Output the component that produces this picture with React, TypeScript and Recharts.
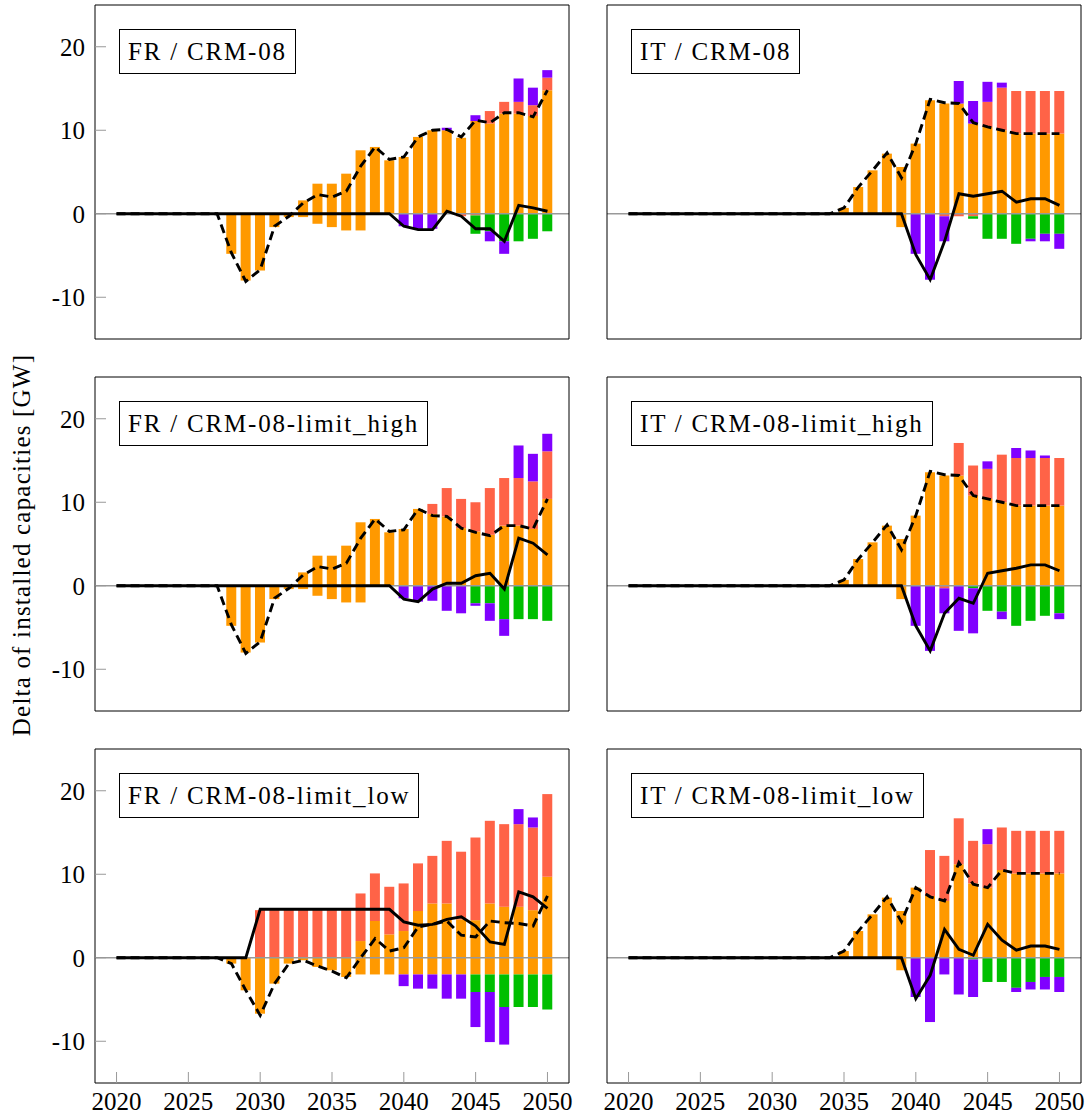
import React from 'react';
import { ComposedChart, Bar, Line, XAxis, YAxis, ReferenceLine } from 'recharts';

const years = [
  2020, 2021, 2022, 2023, 2024, 2025, 2026, 2027, 2028, 2029,
  2030, 2031, 2032, 2033, 2034, 2035, 2036, 2037, 2038, 2039,
  2040, 2041, 2042, 2043, 2044, 2045, 2046, 2047, 2048, 2049, 2050,
];
const xTicks = [2020, 2025, 2030, 2035, 2040, 2045, 2050];
const yTicks = [-10, 0, 10, 20];

// FR / CRM-08
const fr08Orange = [0, 0, 0, 0, 0, 0, 0, 0, 0, 0, 0, 0, 0, 1.6, 3.6, 3.6, 4.8, 7.6, 8.0, 6.4, 6.8, 9.2, 10.0, 10.0, 9.1, 11.1, 10.8, 12.0, 12.0, 11.7, 14.8];
const fr08OrangeNeg = [0, 0, 0, 0, 0, 0, 0, 0, -4.8, -8.0, -6.8, -1.6, -0.4, -0.4, -1.2, -1.6, -2.0, -2.0, 0, 0, 0, 0, 0, 0, 0, 0, 0, 0, 0, 0, 0];
const fr08Red = [0, 0, 0, 0, 0, 0, 0, 0, 0, 0, 0, 0, 0, 0, 0, 0, 0, 0, 0, 0, 0, 0, 0, 0, -0.3, -0.2, 1.5, 1.4, 1.4, 1.3, 1.5];
const fr08Green = [0, 0, 0, 0, 0, 0, 0, 0, 0, 0, 0, 0, 0, 0, 0, 0, 0, 0, 0, 0, 0, 0, 0, 0, 0, -2.2, -2.1, -3.3, -3.3, -3.0, -2.1];
const fr08Purple = [0, 0, 0, 0, 0, 0, 0, 0, 0, 0, 0, 0, 0, 0, 0, 0, 0, 0, 0, 0, -1.5, -1.8, -1.8, 0.3, 0, 0.7, -1.2, -1.5, 2.8, 2.1, 0.9];
const fr08Dashed = [0, 0, 0, 0, 0, 0, 0, 0, -4.7, -8.1, -6.7, -1.5, -0.3, 1.3, 2.3, 2.0, 2.7, 5.7, 8.0, 6.5, 6.8, 9.2, 10.0, 10.1, 9.2, 11.2, 10.9, 12.1, 12.1, 11.6, 14.8];
const fr08Solid = [0, 0, 0, 0, 0, 0, 0, 0, 0, 0, 0, 0, 0, 0, 0, 0, 0, 0, 0, 0, -1.5, -1.9, -1.9, 0.3, -0.3, -1.8, -1.8, -3.3, 1.0, 0.7, 0.3];

// IT / CRM-08
const it08Orange = [0, 0, 0, 0, 0, 0, 0, 0, 0, 0, 0, 0, 0, 0, 0, 0.7, 3.2, 5.2, 7.2, 5.6, 8.4, 13.6, 13.2, 13.2, 10.8, 10.4, 10.0, 9.6, 9.6, 9.6, 9.6];
const it08OrangeNeg = [0, 0, 0, 0, 0, 0, 0, 0, 0, 0, 0, 0, 0, 0, 0, 0, 0, 0, 0, -1.6, 0, 0, 0, 0, 0, 0, 0, 0, 0, 0, 0];
const it08Red = [0, 0, 0, 0, 0, 0, 0, 0, 0, 0, 0, 0, 0, 0, 0, 0, 0, 0, 0, 0, 0, 0, -0.3, -0.3, -0.3, 3.0, 5.1, 5.1, 5.1, 5.1, 5.1];
const it08Green = [0, 0, 0, 0, 0, 0, 0, 0, 0, 0, 0, 0, 0, 0, 0, 0, 0, 0, 0, 0, 0, 0, 0, 0, -0.3, -3.0, -3.0, -3.6, -3.0, -2.4, -2.4];
const it08Purple = [0, 0, 0, 0, 0, 0, 0, 0, 0, 0, 0, 0, 0, 0, 0, 0, 0, 0, 0, 0, -4.8, -7.9, -3.0, 2.7, 2.7, 2.4, 0.6, 0, -0.3, -0.9, -1.8];
const it08Dashed = [0, 0, 0, 0, 0, 0, 0, 0, 0, 0, 0, 0, 0, 0, 0, 0.7, 3.2, 5.2, 7.3, 4.3, 8.4, 13.7, 13.3, 13.2, 10.9, 10.4, 10.0, 9.6, 9.6, 9.6, 9.6];
const it08Solid = [0, 0, 0, 0, 0, 0, 0, 0, 0, 0, 0, 0, 0, 0, 0, 0, 0, 0, 0, 0, -4.9, -7.9, -3.3, 2.4, 2.1, 2.4, 2.7, 1.4, 1.8, 1.8, 1.0];

// FR / CRM-08-limit_high
const frHighOrange = [0, 0, 0, 0, 0, 0, 0, 0, 0, 0, 0, 0, 0, 1.6, 3.6, 3.6, 4.8, 7.6, 8.0, 6.4, 6.8, 9.2, 8.6, 8.3, 6.9, 6.5, 6.1, 7.2, 7.2, 6.8, 10.4];
const frHighOrangeNeg = [0, 0, 0, 0, 0, 0, 0, 0, -4.8, -8.0, -6.8, -1.6, -0.4, -0.4, -1.2, -1.6, -2.0, -2.0, 0, 0, 0, 0, 0, 0, 0, 0, 0, 0, 0, 0, 0];
const frHighRed = [0, 0, 0, 0, 0, 0, 0, 0, 0, 0, 0, 0, 0, 0, 0, 0, 0, 0, 0, 0, 0, 0, 1.2, 3.4, 3.5, 3.5, 5.6, 5.7, 5.7, 5.7, 5.7];
const frHighGreen = [0, 0, 0, 0, 0, 0, 0, 0, 0, 0, 0, 0, 0, 0, 0, 0, 0, 0, 0, 0, 0, 0, 0, 0, 0, -2.1, -2.1, -4.0, -4.0, -4.0, -4.2];
const frHighPurple = [0, 0, 0, 0, 0, 0, 0, 0, 0, 0, 0, 0, 0, 0, 0, 0, 0, 0, 0, 0, -1.5, -1.9, -1.8, -3.0, -3.3, -0.3, -2.1, -2.0, 3.9, 3.3, 2.1];
const frHighDashed = [0, 0, 0, 0, 0, 0, 0, 0, -4.7, -8.1, -6.7, -1.5, -0.3, 1.3, 2.3, 2.0, 2.7, 5.7, 8.0, 6.5, 6.7, 9.2, 8.4, 8.3, 6.9, 6.4, 6.0, 7.2, 7.2, 6.8, 10.4];
const frHighSolid = [0, 0, 0, 0, 0, 0, 0, 0, 0, 0, 0, 0, 0, 0, 0, 0, 0, 0, 0, 0, -1.6, -1.9, -0.4, 0.3, 0.3, 1.2, 1.5, -0.4, 5.7, 5.1, 3.7];

// IT / CRM-08-limit_high
const itHighOrange = [0, 0, 0, 0, 0, 0, 0, 0, 0, 0, 0, 0, 0, 0, 0, 0.7, 3.2, 5.2, 7.2, 5.6, 8.4, 13.6, 13.2, 13.2, 10.8, 10.4, 10.0, 9.6, 9.6, 9.6, 9.6];
const itHighOrangeNeg = [0, 0, 0, 0, 0, 0, 0, 0, 0, 0, 0, 0, 0, 0, 0, 0, 0, 0, 0, -1.6, 0, 0, 0, 0, 0, 0, 0, 0, 0, 0, 0];
const itHighRed = [0, 0, 0, 0, 0, 0, 0, 0, 0, 0, 0, 0, 0, 0, 0, 0, 0, 0, 0, 0, 0, 0, -0.3, 3.9, 3.6, 3.6, 5.7, 5.7, 5.7, 5.7, 5.7];
const itHighGreen = [0, 0, 0, 0, 0, 0, 0, 0, 0, 0, 0, 0, 0, 0, 0, 0, 0, 0, 0, 0, 0, 0, 0, 0, -0.3, -3.0, -3.1, -4.8, -4.2, -3.6, -3.3];
const itHighPurple = [0, 0, 0, 0, 0, 0, 0, 0, 0, 0, 0, 0, 0, 0, 0, 0, 0, 0, 0, 0, -4.8, -7.8, -3.0, -5.4, -5.4, 0.9, -0.9, 1.2, 0.9, 0.3, -0.7];
const itHighDashed = [0, 0, 0, 0, 0, 0, 0, 0, 0, 0, 0, 0, 0, 0, 0, 0.7, 3.2, 5.2, 7.3, 4.3, 8.4, 13.7, 13.3, 13.2, 10.8, 10.4, 10.0, 9.6, 9.6, 9.6, 9.6];
const itHighSolid = [0, 0, 0, 0, 0, 0, 0, 0, 0, 0, 0, 0, 0, 0, 0, 0, 0, 0, 0, 0, -4.8, -7.8, -3.3, -1.5, -2.1, 1.5, 1.8, 2.1, 2.5, 2.5, 1.8];

// FR / CRM-08-limit_low
const frLowOrange = [0, 0, 0, 0, 0, 0, 0, 0, 0, 0, 0, 0, 0, 0, 0, 0, 0, 2.0, 4.4, 2.8, 3.2, 5.6, 6.5, 6.5, 4.6, 4.5, 6.5, 6.1, 6.1, 5.7, 9.7];
const frLowOrangeNeg = [0, 0, 0, 0, 0, 0, 0, 0, -0.7, -3.9, -6.7, -3.1, -0.7, -0.3, -1.1, -1.5, -2.3, -2.0, -2.0, -2.0, -2.0, -2.0, -2.0, -2.0, -2.0, -2.0, -2.0, -2.0, -2.0, -2.0, -2.0];
const frLowRed = [0, 0, 0, 0, 0, 0, 0, 0, 0, 0, 5.7, 5.7, 5.7, 5.7, 5.7, 5.7, 5.7, 5.7, 5.7, 5.7, 5.7, 5.7, 5.7, 7.5, 8.1, 9.9, 9.9, 9.9, 9.9, 9.9, 9.9];
const frLowGreen = [0, 0, 0, 0, 0, 0, 0, 0, 0, 0, 0, 0, 0, 0, 0, 0, 0, 0, 0, 0, 0, 0, 0, 0, 0, -2.1, -2.1, -3.9, -3.9, -3.9, -4.2];
const frLowPurple = [0, 0, 0, 0, 0, 0, 0, 0, 0, 0, 0, 0, 0, 0, 0, 0, 0, 0, 0, 0, -1.4, -1.7, -1.7, -2.9, -2.9, -4.2, -6.0, -4.5, 1.8, 1.2, 0];
const frLowDashed = [0, 0, 0, 0, 0, 0, 0, 0, -0.7, -3.9, -6.9, -3.1, -0.7, -0.3, -1.0, -1.6, -2.4, 0.0, 2.3, 0.8, 1.2, 3.7, 4.0, 4.4, 2.7, 2.5, 4.4, 4.2, 4.1, 3.8, 7.4];
const frLowSolid = [0, 0, 0, 0, 0, 0, 0, 0, 0, 0, 5.8, 5.8, 5.8, 5.8, 5.8, 5.8, 5.8, 5.8, 5.8, 5.8, 4.3, 3.9, 4.0, 4.6, 4.9, 3.8, 1.9, 1.6, 7.9, 7.3, 5.9];

// IT / CRM-08-limit_low
const itLowOrange = [0, 0, 0, 0, 0, 0, 0, 0, 0, 0, 0, 0, 0, 0, 0, 0.8, 3.2, 5.2, 7.2, 5.6, 8.4, 7.4, 6.8, 11.2, 8.9, 8.4, 10.5, 10.1, 10.1, 10.1, 10.1];
const itLowOrangeNeg = [0, 0, 0, 0, 0, 0, 0, 0, 0, 0, 0, 0, 0, 0, 0, 0, 0, 0, 0, -1.5, 0, 0, 0, 0, 0, 0, 0, 0, 0, 0, 0];
const itLowRed = [0, 0, 0, 0, 0, 0, 0, 0, 0, 0, 0, 0, 0, 0, 0, 0, 0, 0, 0, 0, 0, 5.5, 5.4, 5.5, 5.1, 5.2, 5.1, 5.1, 5.1, 5.1, 5.1];
const itLowGreen = [0, 0, 0, 0, 0, 0, 0, 0, 0, 0, 0, 0, 0, 0, 0, 0, 0, 0, 0, 0, 0, 0, 0, 0, -0.2, -2.9, -2.9, -3.6, -2.9, -2.3, -2.3];
const itLowPurple = [0, 0, 0, 0, 0, 0, 0, 0, 0, 0, 0, 0, 0, 0, 0, 0, 0, 0, 0, 0, -4.7, -7.7, -2.0, -4.4, -4.5, 1.8, 0, -0.5, -0.9, -1.5, -1.8];
const itLowDashed = [0, 0, 0, 0, 0, 0, 0, 0, 0, 0, 0, 0, 0, 0, 0, 0.8, 3.2, 5.2, 7.3, 4.3, 8.4, 7.3, 6.8, 11.4, 8.8, 8.4, 10.5, 10.1, 10.1, 10.1, 10.1];
const itLowSolid = [0, 0, 0, 0, 0, 0, 0, 0, 0, 0, 0, 0, 0, 0, 0, 0, 0, 0, 0, 0, -4.9, -2.1, 3.4, 1.0, 0.3, 4.0, 2.1, 0.9, 1.4, 1.4, 1.0];

const ORANGE = '#FF9900';
const RED = '#FF6347';
const GREEN = '#00BF00';
const PURPLE = '#8000FF';
const FONT = '"Liberation Serif", "DejaVu Serif", serif';

type PanelDef = {
  label: string;
  col: number;
  row: number;
  orange: number[];
  orangeNeg: number[];
  red: number[];
  green: number[];
  purple: number[];
  dashed: number[];
  solid: number[];
};

const panels: PanelDef[] = [
  { label: 'FR / CRM-08', col: 0, row: 0, orange: fr08Orange, orangeNeg: fr08OrangeNeg, red: fr08Red, green: fr08Green, purple: fr08Purple, dashed: fr08Dashed, solid: fr08Solid },
  { label: 'IT / CRM-08', col: 1, row: 0, orange: it08Orange, orangeNeg: it08OrangeNeg, red: it08Red, green: it08Green, purple: it08Purple, dashed: it08Dashed, solid: it08Solid },
  { label: 'FR / CRM-08-limit_high', col: 0, row: 1, orange: frHighOrange, orangeNeg: frHighOrangeNeg, red: frHighRed, green: frHighGreen, purple: frHighPurple, dashed: frHighDashed, solid: frHighSolid },
  { label: 'IT / CRM-08-limit_high', col: 1, row: 1, orange: itHighOrange, orangeNeg: itHighOrangeNeg, red: itHighRed, green: itHighGreen, purple: itHighPurple, dashed: itHighDashed, solid: itHighSolid },
  { label: 'FR / CRM-08-limit_low', col: 0, row: 2, orange: frLowOrange, orangeNeg: frLowOrangeNeg, red: frLowRed, green: frLowGreen, purple: frLowPurple, dashed: frLowDashed, solid: frLowSolid },
  { label: 'IT / CRM-08-limit_low', col: 1, row: 2, orange: itLowOrange, orangeNeg: itLowOrangeNeg, red: itLowRed, green: itLowGreen, purple: itLowPurple, dashed: itLowDashed, solid: itLowSolid },
];

const colX = [95, 607];
const rowY = [5, 377, 749];
const PLOT_W = 474;
const PLOT_H = 334;

const tickText = { fill: '#000', fontSize: 25, fontFamily: FONT };

const Panel: React.FC<{ p: PanelDef }> = ({ p }) => {
  const data = years.map((year, i) => ({
    year,
    orangePos: p.orange[i],
    orangeNeg: p.orangeNeg[i],
    red: p.red[i],
    green: p.green[i],
    purple: p.purple[i],
    dashed: p.dashed[i],
    solid: p.solid[i],
  }));
  const yw = p.col === 0 ? 95 : 7;
  const plotLeft = colX[p.col];
  const plotTop = rowY[p.row];
  const showX = p.row === 2;
  const showY = p.col === 0;
  const barProps = { xAxisId: 'b', yAxisId: 'l', stackId: 's', barSize: 10, isAnimationActive: false };

  return (
    <>
      <div style={{ position: 'absolute', left: plotLeft - yw, top: plotTop - 5 }}>
        <ComposedChart
          width={yw + PLOT_W + 1 + 4}
          height={5 + PLOT_H + 32}
          data={data}
          stackOffset="sign"
          margin={{ top: 4, right: 4, bottom: 0, left: 0 }}
        >
          <XAxis
            xAxisId="b"
            dataKey="year"
            type="number"
            domain={[2018.5, 2051.5]}
            allowDataOverflow
            ticks={xTicks}
            interval={0}
            height={32}
            tickSize={-11}
            tickMargin={20}
            axisLine={{ stroke: '#000' }}
            tickLine={{ stroke: '#999' }}
            tick={showX ? tickText : false}
          />
          <XAxis
            xAxisId="t"
            orientation="top"
            dataKey="year"
            type="number"
            domain={[2018.5, 2051.5]}
            allowDataOverflow
            ticks={xTicks}
            interval={0}
            height={1}
            tickSize={-11}
            axisLine={{ stroke: '#000' }}
            tickLine={{ stroke: '#999' }}
            tick={false}
          />
          <YAxis
            yAxisId="l"
            type="number"
            domain={[-15, 25]}
            allowDataOverflow
            ticks={yTicks}
            interval={0}
            width={yw}
            tickSize={-11}
            tickMargin={21}
            axisLine={{ stroke: '#000' }}
            tickLine={{ stroke: '#999' }}
            tick={showY ? tickText : false}
          />
          <YAxis
            yAxisId="r"
            orientation="right"
            type="number"
            domain={[-15, 25]}
            allowDataOverflow
            ticks={yTicks}
            interval={0}
            width={1}
            tickSize={-11}
            axisLine={{ stroke: '#000' }}
            tickLine={{ stroke: '#999' }}
            tick={false}
          />
          <Bar {...barProps} dataKey="orangePos" fill={ORANGE} />
          <Bar {...barProps} dataKey="orangeNeg" fill={ORANGE} />
          <Bar {...barProps} dataKey="red" fill={RED} />
          <Bar {...barProps} dataKey="green" fill={GREEN} />
          <Bar {...barProps} dataKey="purple" fill={PURPLE} />
          <ReferenceLine xAxisId="b" yAxisId="l" y={0} stroke="#999" strokeWidth={1.5} />
          <Line xAxisId="b" yAxisId="l" type="linear" dataKey="solid" stroke="#000" strokeWidth={2.9} dot={false} isAnimationActive={false} />
          <Line xAxisId="b" yAxisId="l" type="linear" dataKey="dashed" stroke="#000" strokeWidth={2.9} strokeDasharray="9 5" dot={false} isAnimationActive={false} />
          <Line xAxisId="t" yAxisId="r" type="linear" dataKey="solid" stroke="none" dot={false} isAnimationActive={false} />
        </ComposedChart>
      </div>
      <div
        style={{
          position: 'absolute',
          left: plotLeft + 24,
          top: plotTop + 24,
          border: '1px solid #000',
          background: '#fff',
          fontFamily: FONT,
          fontSize: 25,
          lineHeight: '43px',
          padding: '0 8px',
          letterSpacing: 1.8,
          whiteSpace: 'nowrap',
        }}
      >
        {p.label}
      </div>
    </>
  );
};

const App: React.FC = () => {
  return (
    <div style={{ position: 'absolute', left: 0, top: 0, width: 1091, height: 1116, overflow: 'hidden', background: '#fff' }}>
      {panels.map((p) => (
        <Panel key={p.label} p={p} />
      ))}
      <div
        style={{
          position: 'absolute',
          left: 22,
          top: 545,
          transform: 'translate(-50%, -50%) rotate(-90deg)',
          whiteSpace: 'nowrap',
          fontFamily: FONT,
          fontSize: 25,
          letterSpacing: 1.2,
        }}
      >
        Delta of installed capacities [GW]
      </div>
    </div>
  );
};

export default App;
